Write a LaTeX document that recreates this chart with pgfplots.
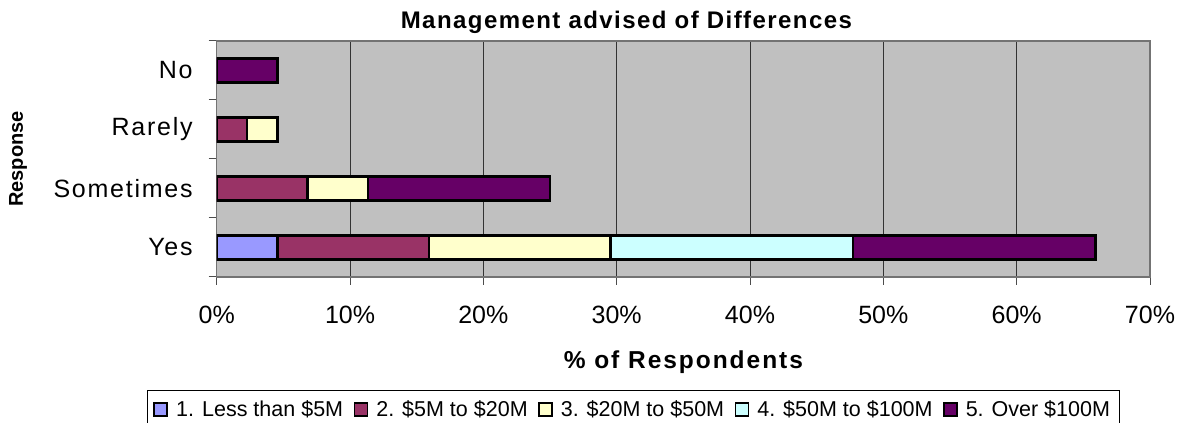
\documentclass[border=0pt]{standalone}
\usepackage{fontspec}
\setmainfont{Liberation Sans}
\usepackage{pgfplots}
\pgfplotsset{compat=1.18}
\definecolor{cA}{HTML}{9999FF}
\definecolor{cB}{HTML}{993366}
\definecolor{cC}{HTML}{FFFFCC}
\definecolor{cD}{HTML}{CCFFFF}
\definecolor{cE}{HTML}{660066}
\definecolor{bggray}{HTML}{C0C0C0}
\begin{document}
\begin{tikzpicture}
\useasboundingbox (0,0) rectangle (594.5pt,211.5pt);
\begin{axis}[
  at={(108.35pt,73pt)}, anchor=south west,
  scale only axis, width=466.65pt, height=118pt,
  xbar stacked, bar width=0.41,
  xmin=0, xmax=70, ymin=-0.5, ymax=3.5,
  xtick={0,10,...,70},
  /pgf/number format/assume math mode=true,
  xticklabel={\pgfmathprintnumber{\tick}\%},
  ytick={-0.5,0.5,1.5,2.5,3.5}, yticklabels={},
  extra y ticks={0,1,2,3},
  extra y tick labels={Yes,Sometimes,Rarely,No},
  extra y tick style={major tick length=0pt, ymajorgrids=false,
     yticklabel style={font=\fontsize{12.5}{14}\selectfont\addfontfeature{LetterSpace=7}, anchor=east, inner sep=0pt, xshift=-11.85pt}},
  tick align=outside, xtick pos=bottom, ytick pos=left,
  major tick length=4pt,
  tick style={black!70, line width=0.5pt},
  xmajorgrids, grid style={black!80, line width=0.5pt},
  axis background/.style={fill=bggray},
  axis line style={black!55, line width=0.75pt},
  xticklabel style={font=\fontsize{12.5}{14}\selectfont, anchor=base, yshift=-19.5pt},
  title={Management advised of Differences},
  title style={font=\fontsize{12}{14}\selectfont\bfseries\addfontfeature{LetterSpace=6}, at={(0.439,1)}, anchor=base, yshift=0.35pt},
  xlabel={\% of Respondents},
  xlabel style={font=\fontsize{12.25}{14}\selectfont\bfseries\addfontfeature{LetterSpace=8}, at={(0.5,0)}, anchor=base, yshift=-45.65pt},
  ylabel={Response},
  ylabel style={font=\fontsize{10}{12}\selectfont\bfseries, at={(-0.2129,0.5)}, anchor=center},
  legend columns=5,
  legend cell align=left,
  legend image code/.code={\draw[#1, draw=black, line width=0.75pt] (0pt,-3pt) rectangle (6.5pt,3.5pt); \path[draw=none, fill=none] (0pt,0pt) -- (9pt,0pt);},
  legend style={at={(-0.0747,-0.4788)}, anchor=north west, draw=black, line width=0.5pt, fill=white,
    font=\fontsize{10.75}{12}\selectfont, inner xsep=3pt, inner ysep=3pt,
    /tikz/every even column/.append style={column sep=3.2pt}},
]
\addplot[fill=cA, draw=black, line width=1.25pt] coordinates {(4.545,0) (0,1) (0,2) (0,3)};
\addplot[fill=cB, draw=black, line width=1.25pt] coordinates {(11.364,0) (6.818,1) (2.273,2) (0,3)};
\addplot[fill=cC, draw=black, line width=1.25pt] coordinates {(13.636,0) (4.545,1) (2.273,2) (0,3)};
\addplot[fill=cD, draw=black, line width=1.25pt] coordinates {(18.182,0) (0,1) (0,2) (0,3)};
\addplot[fill=cE, draw=black, line width=1.25pt] coordinates {(18.182,0) (13.636,1) (0,2) (4.545,3)};
\legend{1. Less than \$5M, 2. \$5M to \$20M, 3. \$20M to \$50M, 4. \$50M to \$100M, 5. Over \$100M}
\end{axis}
\end{tikzpicture}
\end{document}
